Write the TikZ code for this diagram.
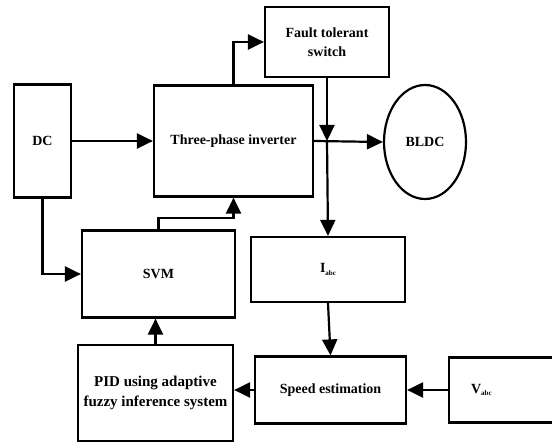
\documentclass[tikz,border=0pt]{standalone}
\usepackage{fontspec}
\setmainfont{Liberation Serif}[BoldFont={Liberation Serif Bold}]
\usetikzlibrary{arrows.meta,shapes.geometric}
\newcommand{\subtxt}[1]{{\fontsize{7bp}{7bp}\selectfont\raisebox{-2.5bp}{#1}}}
\begin{document}
\begin{tikzpicture}[x=1bp,y=-1bp,
  blk/.style={draw,line width=2.2bp,rectangle,inner sep=0pt,align=center,
    font=\rmfamily\bfseries\fontsize{14bp}{19bp}\selectfont},
  conn/.style={line width=2.2bp},
  arr/.style={conn,-{Triangle[length=16bp,width=15bp]}}]
\useasboundingbox (0,0) rectangle (552,442);
\clip (0,0) rectangle (552,442);
% blocks
\node[blk,minimum width=57bp,minimum height=113bp] (dc) at (42.5,141) {DC};
\node[blk,minimum width=159bp,minimum height=111bp] (inv) at (233.5,141) {Three-phase inverter};
\node[blk,minimum width=124bp,minimum height=70bp] (fts) at (327,42) {Fault tolerant\\switch};
\node[blk,ellipse,minimum width=82bp,minimum height=114bp] (bldc) at (425,142) {BLDC};
\node[blk,minimum width=153bp,minimum height=87bp] (svm) at (158.5,274) {SVM};
\node[blk,minimum width=154bp,minimum height=65bp] (iabc) at (328,269.5) {I\subtxt{abc}};
\node[blk,minimum width=151bp,minimum height=67bp] (spd) at (330.5,390) {Speed estimation};
\node[blk,anchor=west,text width=86bp,inner xsep=22bp,minimum height=65bp,align=left] (vabc) at (448,390) {V\subtxt{abc}};
\node[blk,minimum width=155bp,minimum height=96bp,font=\rmfamily\bfseries\fontsize{15bp}{20bp}\selectfont] (pid) at (155.5,393) {PID using adaptive\\fuzzy inference system};
% junction on the inverter--motor line
\coordinate (j) at (fts.south |- inv.east);
% power path
\draw[arr] (dc.east) -- (inv.west);
\draw[arr] (inv.east) -- (bldc.west);
\draw[arr] (inv.north) |- (fts.west);
\draw[arr] (fts.south) -- (j);
\draw[arr] (j) -- (iabc.north);
% control path
\draw[arr] (dc.south) |- (svm.west);
\draw[arr] (svm.north) -- ++(0,-11) -| (inv.south);
\draw[arr] (iabc.south) -- (spd.north);
\draw[arr] (vabc.west) -- (spd.east);
\draw[arr] (spd.west) -- (spd.west -| pid.east);
\draw[arr] (pid.north) -- (pid.north |- svm.south);
\end{tikzpicture}
\end{document}
